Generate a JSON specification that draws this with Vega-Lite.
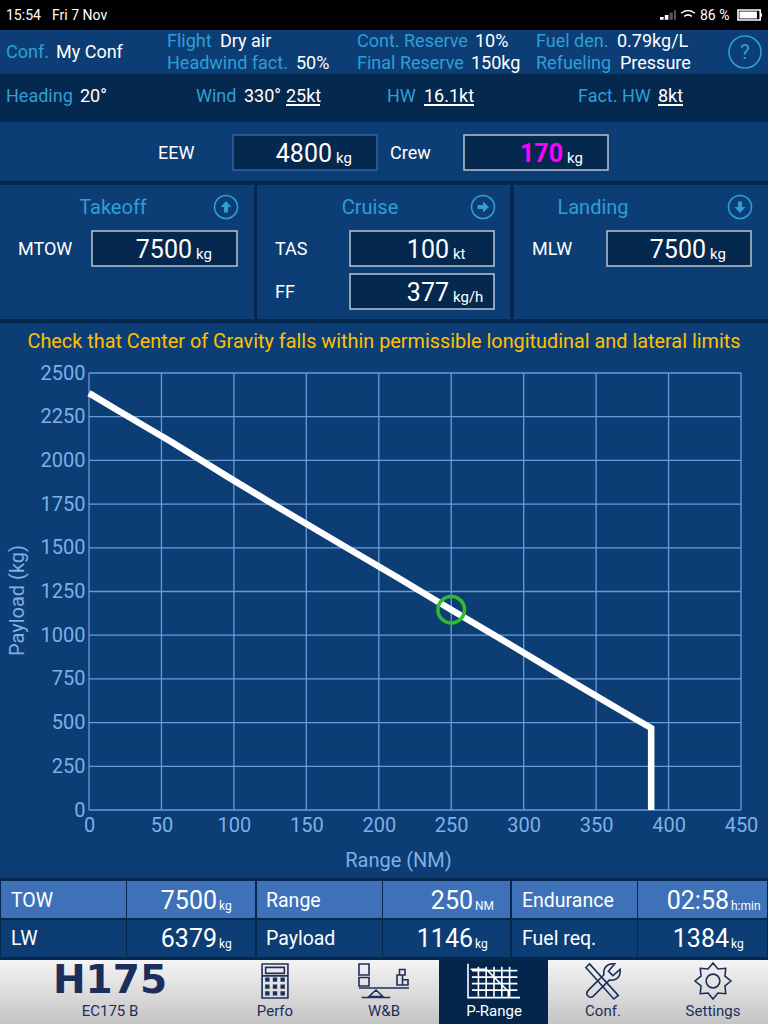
{
  "$schema": "https://vega.github.io/schema/vega-lite/v6.json",
  "width": 768,
  "height": 1024,
  "padding": 0,
  "autosize": {"type": "none"},
  "background": "#0c3e75",
  "config": {"view": {"stroke": null}, "text": {"font": "Roboto"}},
  "resolve": {"scale": {"x": "independent", "y": "independent"}},
  "layer": [
    {
      "resolve": {"scale": {"shape": "independent", "size": "independent"}},
      "encoding": {
        "x": {"field": "col", "type": "quantitative", "axis": null, "scale": {"nice": false, "zero": false,
          "domain": [0,1,2,3,4,5,6,7,8,9,10,11,12,13,14,15,16,17,18,19,20,21,22,23,24,25,26,27,28,29,30,31,32,33,34,35,36,37,38,39,40,41,42,43,44,45,46,47,48,49,50,51,52,53,54,55,56,57,58,59,60,61,62,63,64,65,66,67,68,69,70,71,71.5,72,73,74,75,76,77,78,79,80],
          "range": [0,1,6,11,18,52,56,80,92,110,113,126,127,158,167,194,196,219,220,226,233,237,244,254,255,257,266,275,286,296,320,334,350,357,370,375,377,382,383,384,387,390,424,439,451,464,471,474,475,483,494,510,512,514,522,532,536,548,565,578,593,603,607,608,617,620,637,638,658,668,683,688,700,708,713,731,740,745,750,751,767,768]}},
        "y": {"field": "row", "type": "quantitative", "axis": null, "scale": {"nice": false, "zero": false,
          "domain": [0,1,2,3,4,5,6,7,8,9,10,11,12,13,14,15,16,17,18,19,20,21,22,23,24,25,26,27,28,29,30,31,32,33,34,35,36],
          "range": [0,15,30,41,52,63,74,96,104,106,122,135,153,170,181,185,207,231,249,266,274,292,309,319,323,341,878,881,900,918,920,938,957,960,981,1010,1024]}},
        "color": {"field": "tone", "type": "nominal", "legend": null, "scale": {
          "domain": ["black","dark","mid","cell","selected","label","white","edited","warn","navy","off"],
          "range": ["#000000","#05284f","#0c3e75","#3e71b8","#05264c","#2f9ed6","#ffffff","#ff00ff","#ffc000","#1c2f5c","#555555"]}}
      },
      "layer": [
        {
          "data": {"values": [
            {"part":"status bar","col":0,"col2":80,"row":0,"row2":2,"tone":"black"},
            {"part":"heading bar","col":0,"col2":80,"row":6,"row2":10,"tone":"dark"},
            {"part":"panel top","col":0,"col2":80,"row":14,"row2":15,"tone":"dark"},
            {"part":"panel gap 1","col":23,"col2":25,"row":15,"row2":23,"tone":"dark"},
            {"part":"panel gap 2","col":51,"col2":53,"row":15,"row2":23,"tone":"dark"},
            {"part":"panel bottom","col":0,"col2":80,"row":23,"row2":24,"tone":"dark"},
            {"part":"table","col":0,"col2":80,"row":26,"row2":33,"tone":"dark"},
            {"part":"TOW","col":1,"col2":11,"row":27,"row2":29,"tone":"cell"},
            {"part":"TOW value","col":12,"col2":24,"row":27,"row2":29,"tone":"cell"},
            {"part":"Range","col":25,"col2":37,"row":27,"row2":29,"tone":"cell"},
            {"part":"Range value","col":38,"col2":51,"row":27,"row2":29,"tone":"cell"},
            {"part":"Endurance","col":52,"col2":66,"row":27,"row2":29,"tone":"cell"},
            {"part":"Endurance value","col":67,"col2":79,"row":27,"row2":29,"tone":"cell"},
            {"part":"LW","col":1,"col2":11,"row":30,"row2":32,"tone":"mid"},
            {"part":"LW value","col":12,"col2":24,"row":30,"row2":32,"tone":"mid"},
            {"part":"Payload","col":25,"col2":37,"row":30,"row2":32,"tone":"mid"},
            {"part":"Payload value","col":38,"col2":51,"row":30,"row2":32,"tone":"mid"},
            {"part":"Fuel req.","col":52,"col2":66,"row":30,"row2":32,"tone":"mid"},
            {"part":"Fuel req. value","col":67,"col2":79,"row":30,"row2":32,"tone":"mid"},
            {"part":"25kt underline","col":28,"col2":30,"row":8,"row2":9,"tone":"white"},
            {"part":"16.1kt underline","col":42,"col2":47,"row":8,"row2":9,"tone":"white"},
            {"part":"8kt underline","col":68,"col2":70,"row":8,"row2":9,"tone":"white"}
          ]},
          "mark": {"type": "rect"},
          "encoding": {"x2": {"field": "col2"}, "y2": {"field": "row2"}}
        },
        {
          "data": {"values": [{"part":"tab bar","col":0,"col2":80,"row":33,"row2":36}]},
          "mark": {"type": "rect"},
          "encoding": {"x2": {"field": "col2"}, "y2": {"field": "row2"},
            "color": {"value": {"gradient": "linear", "x1": 0, "y1": 0, "x2": 0, "y2": 1, "stops": [{"offset": 0, "color": "#f4f4f4"}, {"offset": 1, "color": "#c4c4c4"}]}}}
        },
        {
          "data": {"values": [{"part":"selected tab","col":43,"col2":57,"row":33,"row2":36,"tone":"selected"}]},
          "mark": {"type": "rect"},
          "encoding": {"x2": {"field": "col2"}, "y2": {"field": "row2"}}
        },
        {
          "data": {"values": [
            {"box":"EEW","col":20,"col2":36,"row":11,"row2":13,"tone":"dark","edge":"locked"},
            {"box":"Crew","col":45,"col2":63,"row":11,"row2":13,"tone":"dark","edge":"open"},
            {"box":"MTOW","col":8,"col2":21,"row":17,"row2":19,"tone":"dark","edge":"open"},
            {"box":"TAS","col":32,"col2":50,"row":17,"row2":19,"tone":"dark","edge":"open"},
            {"box":"FF","col":32,"col2":50,"row":20,"row2":22,"tone":"dark","edge":"open"},
            {"box":"MLW","col":62,"col2":78,"row":17,"row2":19,"tone":"dark","edge":"open"}
          ]},
          "mark": {"type": "rect", "strokeWidth": 1.5},
          "encoding": {
            "x2": {"field": "col2"},
            "y2": {"field": "row2"},
            "stroke": {"field": "edge", "type": "nominal", "legend": null, "scale": {"domain": ["locked", "open"], "range": ["#2f62a5", "#b9c4d2"]}}
          }
        },
        {
          "data": {"values": [
            {"text":"15:54","col":2,"row":1,"tone":"white"},
            {"text":"Fri 7 Nov","col":5,"row":1,"tone":"white"},
            {"text":"86 %","col":71.5,"row":1,"tone":"white"}
          ]},
          "mark": {"type": "text", "align": "left", "baseline": "middle", "fontSize": 14, "dy": 1},
          "encoding": {"text": {"field": "text"}}
        },
        {
          "data": {"values": [
            {"text":"Conf.","col":2,"row":4,"tone":"label"},
            {"text":"My Conf","col":6,"row":4,"tone":"white"},
            {"text":"Flight","col":14,"row":3,"tone":"label"},
            {"text":"Dry air","col":18,"row":3,"tone":"white"},
            {"text":"Headwind fact.","col":14,"row":5,"tone":"label"},
            {"text":"50%","col":29,"row":5,"tone":"white"},
            {"text":"Cont. Reserve","col":33,"row":3,"tone":"label"},
            {"text":"10%","col":48,"row":3,"tone":"white"},
            {"text":"Final Reserve","col":33,"row":5,"tone":"label"},
            {"text":"150kg","col":46,"row":5,"tone":"white"},
            {"text":"Fuel den.","col":56,"row":3,"tone":"label"},
            {"text":"0.79kg/L","col":64,"row":3,"tone":"white"},
            {"text":"Refueling","col":56,"row":5,"tone":"label"},
            {"text":"Pressure","col":65,"row":5,"tone":"white"},
            {"text":"Heading","col":2,"row":7,"tone":"label"},
            {"text":"20°","col":7,"row":7,"tone":"white"},
            {"text":"Wind","col":16,"row":7,"tone":"label"},
            {"text":"330°","col":22,"row":7,"tone":"white"},
            {"text":"25kt","col":28,"row":7,"tone":"white"},
            {"text":"HW","col":40,"row":7,"tone":"label"},
            {"text":"16.1kt","col":42,"row":7,"tone":"white"},
            {"text":"Fact. HW","col":59,"row":7,"tone":"label"},
            {"text":"8kt","col":68,"row":7,"tone":"white"},
            {"text":"EEW","col":13,"row":12,"tone":"white"},
            {"text":"Crew","col":41,"row":12,"tone":"white"},
            {"text":"MTOW","col":4,"row":18,"tone":"white"},
            {"text":"TAS","col":27,"row":18,"tone":"white"},
            {"text":"FF","col":27,"row":21,"tone":"white"},
            {"text":"MLW","col":55,"row":18,"tone":"white"}
          ]},
          "mark": {"type": "text", "align": "left", "baseline": "middle", "fontSize": 18, "dy": 1},
          "encoding": {"text": {"field": "text"}}
        },
        {
          "data": {"values": [
            {"text":"TOW","col":3,"row":28,"tone":"white"},
            {"text":"Range","col":26,"row":28,"tone":"white"},
            {"text":"Endurance","col":54,"row":28,"tone":"white"},
            {"text":"LW","col":3,"row":31,"tone":"white"},
            {"text":"Payload","col":26,"row":31,"tone":"white"},
            {"text":"Fuel req.","col":54,"row":31,"tone":"white"}
          ]},
          "mark": {"type": "text", "align": "left", "baseline": "middle", "fontSize": 19.5, "dy": 1},
          "encoding": {"text": {"field": "text"}}
        },
        {
          "data": {"values": [
            {"text":"4800","col":31,"row":12,"tone":"white"},
            {"text":"7500","col":15,"row":18,"tone":"white"},
            {"text":"100","col":44,"row":18,"tone":"white"},
            {"text":"377","col":44,"row":21,"tone":"white"},
            {"text":"7500","col":72,"row":18,"tone":"white"},
            {"text":"7500","col":17,"row":28,"tone":"white"},
            {"text":"250","col":48,"row":28,"tone":"white"},
            {"text":"02:58","col":74,"row":28,"tone":"white"},
            {"text":"6379","col":17,"row":31,"tone":"white"},
            {"text":"1146","col":48,"row":31,"tone":"white"},
            {"text":"1384","col":74,"row":31,"tone":"white"}
          ]},
          "mark": {"type": "text", "align": "right", "baseline": "middle", "fontSize": 25, "dx": -2, "dy": 1},
          "encoding": {"text": {"field": "text"}}
        },
        {
          "data": {"values": [{"text":"170","col":58,"row":12,"tone":"edited"}]},
          "mark": {"type": "text", "align": "right", "baseline": "middle", "fontSize": 25, "fontWeight": "bold", "dx": -2, "dy": 1},
          "encoding": {"text": {"field": "text"}}
        },
        {
          "data": {"values": [
            {"text":"kg","col":31,"row":12,"tone":"white"},
            {"text":"kg","col":58,"row":12,"tone":"white"},
            {"text":"kg","col":15,"row":18,"tone":"white"},
            {"text":"kt","col":44,"row":18,"tone":"white"},
            {"text":"kg/h","col":44,"row":21,"tone":"white"},
            {"text":"kg","col":72,"row":18,"tone":"white"}
          ]},
          "mark": {"type": "text", "align": "left", "baseline": "middle", "fontSize": 15, "dx": 2, "dy": 5},
          "encoding": {"text": {"field": "text"}}
        },
        {
          "data": {"values": [
            {"text":"kg","col":17,"row":28,"tone":"white"},
            {"text":"NM","col":48,"row":28,"tone":"white"},
            {"text":"h:min","col":74,"row":28,"tone":"white"},
            {"text":"kg","col":17,"row":31,"tone":"white"},
            {"text":"kg","col":48,"row":31,"tone":"white"},
            {"text":"kg","col":74,"row":31,"tone":"white"}
          ]},
          "mark": {"type": "text", "align": "left", "baseline": "middle", "fontSize": 12, "dy": 6},
          "encoding": {"text": {"field": "text"}}
        },
        {
          "data": {"values": [
            {"text":"Takeoff","col":10,"row":16,"tone":"label"},
            {"text":"Cruise","col":34,"row":16,"tone":"label"},
            {"text":"Landing","col":60,"row":16,"tone":"label"},
            {"text":"?","col":76,"row":4,"tone":"label"}
          ]},
          "mark": {"type": "text", "align": "center", "baseline": "middle", "fontSize": 20, "dy": 1},
          "encoding": {"text": {"field": "text"}}
        },
        {
          "data": {"values": [{"text":"Check that Center of Gravity falls within permissible longitudinal and lateral limits","col":39,"row":25,"tone":"warn"}]},
          "mark": {"type": "text", "align": "center", "baseline": "middle", "fontSize": 19.85, "dy": 1},
          "encoding": {"text": {"field": "text"}}
        },
        {
          "data": {"values": [
            {"text":"EC175 B","col":9,"row":35,"tone":"navy"},
            {"text":"Perfo","col":27,"row":35,"tone":"navy"},
            {"text":"W&B","col":39,"row":35,"tone":"navy"},
            {"text":"P-Range","col":50,"row":35,"tone":"white"},
            {"text":"Conf.","col":61,"row":35,"tone":"navy"},
            {"text":"Settings","col":73,"row":35,"tone":"navy"}
          ]},
          "mark": {"type": "text", "align": "center", "baseline": "middle", "fontSize": 15, "dy": 1},
          "encoding": {"text": {"field": "text"}}
        },
        {
          "data": {"values": [{"text":"H175","col":9,"row":34,"tone":"navy"}]},
          "mark": {"type": "text", "align": "center", "baseline": "middle", "fontSize": 39, "font": "DejaVu Sans", "fontWeight": "bold"},
          "encoding": {"text": {"field": "text"}}
        },
        {
          "data": {"values": [
            {"icon":"ring big","col":76,"row":4,"tone":"label"},
            {"icon":"ring","col":19,"row":16,"tone":"label"},
            {"icon":"ring","col":49,"row":16,"tone":"label"},
            {"icon":"ring","col":75,"row":16,"tone":"label"},
            {"icon":"wifi","col":71,"row":1,"tone":"white"},
            {"icon":"battery","col":77,"row":1,"tone":"white"},
            {"icon":"calculator","col":27,"row":34,"tone":"navy"},
            {"icon":"balance","col":39,"row":34,"tone":"navy"},
            {"icon":"prange","col":50,"row":34,"tone":"white"},
            {"icon":"tools","col":61,"row":34,"tone":"navy"},
            {"icon":"gear","col":73,"row":34,"tone":"navy"}
          ]},
          "mark": {"type": "point", "filled": false, "opacity": 1, "strokeWidth": 1.6},
          "encoding": {
            "shape": {"field": "icon", "type": "nominal", "legend": null, "scale": {
              "domain": ["ring big","ring","wifi","battery","calculator","balance","prange","tools","gear"],
              "range": [
                "M1 0A1 1 0 1 1 -1 0A1 1 0 1 1 1 0Z",
                "M1 0A1 1 0 1 1 -1 0A1 1 0 1 1 1 0Z",
                "M-1 -0.25Q0 -1.05 1 -0.25M-0.55 0.2Q0 -0.25 0.55 0.2",
                "M-1 -0.42H0.85V0.42H-1Z",
                "M-0.76 -1H0.76V1H-0.76ZM-0.55 -0.8H0.55V-0.45H-0.55ZM-0.76 -0.3H0.76",
                "M-1 -0.68H-0.6V-0.24H-1ZM-1 -0.14H-0.6V0.2H-1ZM-1 0.28H1M-0.32 0.36L-0.05 0.62H-0.6ZM-0.9 0.66H0.25M0.52 -0.24H0.74V0.16H0.52ZM0.74 -0.05H0.96V0.16H0.74ZM0.62 -0.46H0.84V-0.24H0.62Z",
                "M-1 -0.66V0.64H1M-0.85 -0.4H0.9M-0.85 -0.15H0.9M-0.85 0.1H0.9M-0.85 0.35H0.9M-0.6 -0.55V0.6M-0.3 -0.55V0.6M0 -0.55V0.6M0.3 -0.55V0.6M0.6 -0.55V0.6M-0.9 -0.45H-0.3L0.55 0.4V0.62",
                "M-0.75 -0.95L0.85 0.8L0.6 1L-0.95 -0.75ZM0.95 -0.65L0.55 -0.3L0.3 -0.55L0.65 -0.95C0.2 -1 0 -0.7 0.05 -0.35L-0.85 0.55C-1 0.75 -0.75 1 -0.55 0.85L0.35 -0.05C0.7 0 1 -0.2 0.95 -0.65Z",
                "M1 0L0.665 0.276L0.707 0.707L0.276 0.665L0 1L-0.276 0.665L-0.707 0.707L-0.665 0.276L-1 0L-0.665 -0.276L-0.707 -0.707L-0.276 -0.665L0 -1L0.276 -0.665L0.707 -0.707L0.665 -0.276ZM0.38 0A0.38 0.38 0 1 1 -0.38 0A0.38 0.38 0 1 1 0.38 0Z"
              ]}},
            "size": {"field": "icon", "type": "nominal", "legend": null, "scale": {"type": "ordinal",
              "domain": ["ring big","ring","wifi","battery","calculator","balance","prange","tools","gear"],
              "range": [1024,529,196,576,1156,2500,2704,1296,1296]}}
          }
        },
        {
          "data": {"values": [
            {"icon":"up","col":19,"row":16,"tone":"label"},
            {"icon":"right","col":49,"row":16,"tone":"label"},
            {"icon":"down","col":75,"row":16,"tone":"label"},
            {"icon":"signal on","col":69,"row":1,"tone":"white"},
            {"icon":"signal off","col":69,"row":1,"tone":"off"},
            {"icon":"charge","col":77,"row":1,"tone":"white"},
            {"icon":"keys","col":27,"row":34,"tone":"navy"}
          ]},
          "mark": {"type": "point", "filled": true, "opacity": 1},
          "encoding": {
            "shape": {"field": "icon", "type": "nominal", "legend": null, "scale": {
              "domain": ["up","right","down","signal on","signal off","charge","keys"],
              "range": [
                "M0 -1L0.9 0H0.35V0.9H-0.35V0H-0.9Z",
                "M1 0L0 0.9V0.35H-0.9V-0.35H0V-0.9Z",
                "M0 1L0.9 0H0.35V-0.9H-0.35V0H-0.9Z",
                "M-1 0.25H-0.55V0.6H-1ZM-0.4 0H0.05V0.6H-0.4Z",
                "M0.2 -0.3H0.6V0.6H0.2ZM0.75 -0.6H1V0.6H0.75Z",
                "M-0.88 -0.3H0.58V0.3H-0.88ZM0.92 -0.15H1V0.15H0.92Z",
                "M-0.58 -0.2H-0.32V0.05H-0.58ZM-0.13 -0.2H0.13V0.05H-0.13ZM0.32 -0.2H0.58V0.05H0.32ZM-0.58 0.2H-0.32V0.45H-0.58ZM-0.13 0.2H0.13V0.45H-0.13ZM0.32 0.2H0.58V0.45H0.32ZM-0.58 0.6H-0.32V0.85H-0.58ZM-0.13 0.6H0.13V0.85H-0.13ZM0.32 0.6H0.58V0.85H0.32Z"
              ]}},
            "size": {"field": "icon", "type": "nominal", "legend": null, "scale": {"type": "ordinal",
              "domain": ["up","right","down","signal on","signal off","charge","keys"],
              "range": [144,144,144,256,256,576,1156]}}
          }
        }
      ]
    },
    {
      "encoding": {
        "x": {"field": "range", "type": "quantitative", "title": "Range (NM)",
          "scale": {"domain": [0, 450], "range": [89, 741], "nice": false, "zero": false},
          "axis": {"orient": "bottom", "offset": -214, "values": [0,50,100,150,200,250,300,350,400,450], "domain": false, "ticks": false, "grid": false, "labelFlush": false, "labelOverlap": false, "labelFont": "Roboto", "labelFontSize": 20, "labelColor": "#7db0e6", "labelPadding": 5, "titleFont": "Roboto", "titleFontSize": 20, "titleFontWeight": "normal", "titleColor": "#7db0e6", "titleX": 398, "titleY": 40}},
        "y": {"field": "payload", "type": "quantitative", "title": "Payload (kg)",
          "scale": {"domain": [0, 2500], "range": [810, 373], "nice": false, "zero": false},
          "axis": {"orient": "left", "offset": -89, "format": "d", "values": [0,250,500,750,1000,1250,1500,1750,2000,2250,2500], "domain": false, "ticks": false, "grid": false, "labelFlush": false, "labelOverlap": false, "labelFont": "Roboto", "labelFontSize": 20, "labelColor": "#7db0e6", "labelPadding": 4, "titleFont": "Roboto", "titleFontSize": 20, "titleFontWeight": "normal", "titleColor": "#7db0e6", "titleX": -62, "titleY": 600}}
      },
      "layer": [
        {
          "data": {"values": [
            {"range":0,"payload":0},{"range":50,"payload":0},{"range":100,"payload":0},{"range":150,"payload":0},{"range":200,"payload":0},
            {"range":250,"payload":0},{"range":300,"payload":0},{"range":350,"payload":0},{"range":400,"payload":0},{"range":450,"payload":0}
          ]},
          "mark": {"type": "rule", "color": "#6a9bd8", "strokeWidth": 1.3},
          "encoding": {"y2": {"datum": 2500}}
        },
        {
          "data": {"values": [
            {"range":0,"payload":0},{"range":0,"payload":250},{"range":0,"payload":500},{"range":0,"payload":750},{"range":0,"payload":1000},{"range":0,"payload":1250},
            {"range":0,"payload":1500},{"range":0,"payload":1750},{"range":0,"payload":2000},{"range":0,"payload":2250},{"range":0,"payload":2500}
          ]},
          "mark": {"type": "rule", "color": "#6a9bd8", "strokeWidth": 1.3},
          "encoding": {"x2": {"datum": 450}}
        },
        {
          "data": {"values": [
            {"range":0,"payload":2385},{"range":20,"payload":2285},{"range":57,"payload":2105},{"range":97,"payload":1900},
            {"range":135,"payload":1710},{"range":175,"payload":1515},{"range":213,"payload":1330},{"range":250,"payload":1146},
            {"range":290,"payload":950},{"range":328,"payload":760},{"range":370,"payload":555},{"range":388,"payload":469},{"range":388,"payload":0}
          ]},
          "mark": {"type": "line", "color": "#ffffff", "strokeWidth": 6.5, "strokeJoin": "miter", "clip": false}
        },
        {
          "data": {"values": [{"range":250,"payload":1146}]},
          "mark": {"type": "point", "shape": "circle", "filled": false, "color": "#2ebd2e", "opacity": 1, "size": 707, "strokeWidth": 3.5}
        }
      ]
    }
  ]
}
